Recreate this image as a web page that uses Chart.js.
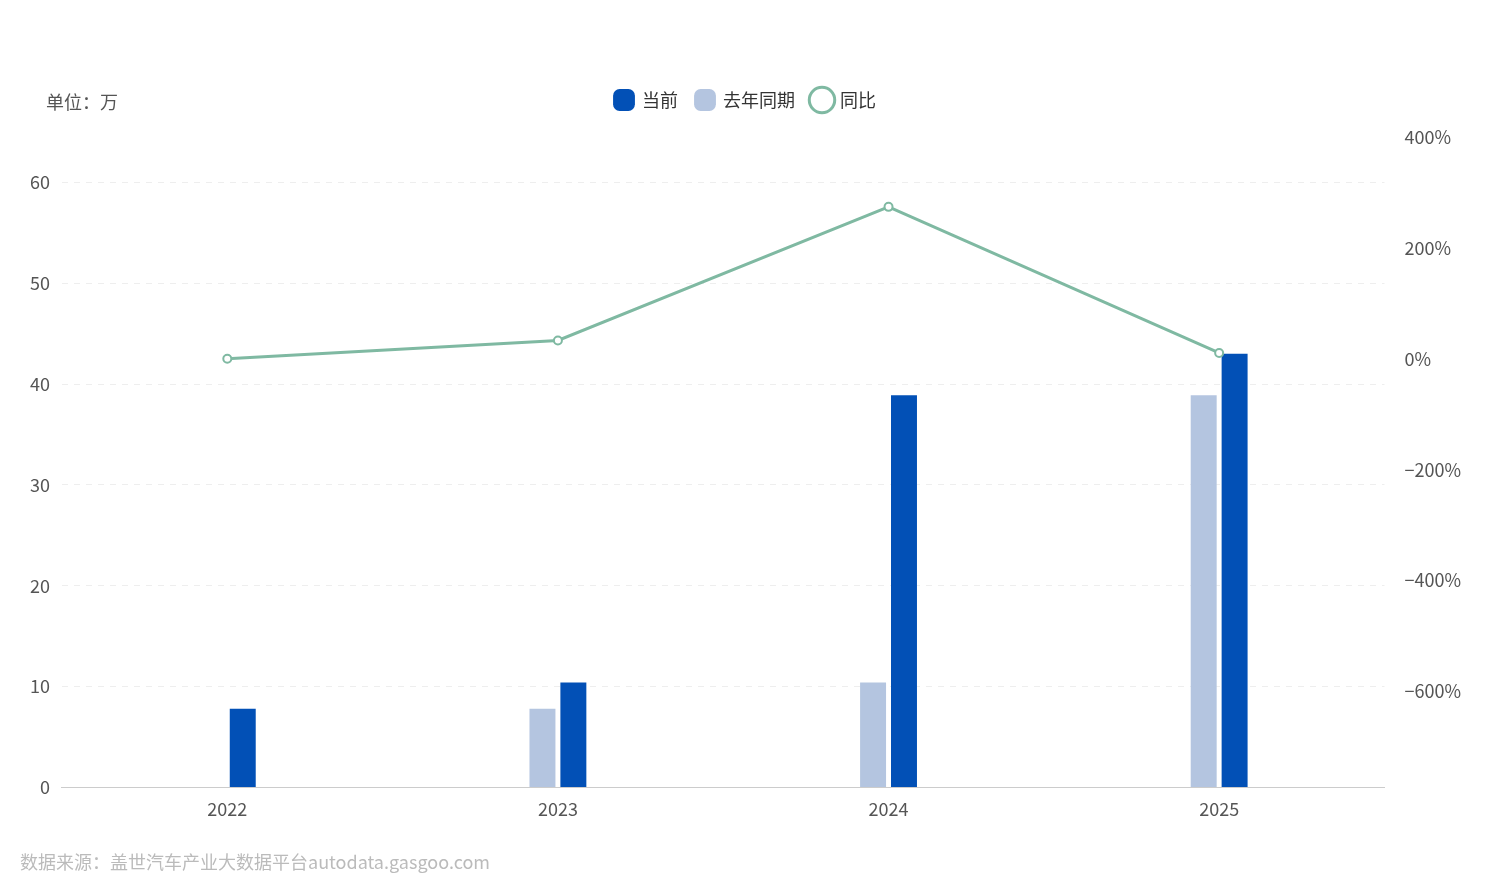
<!DOCTYPE html>
<html><head><meta charset="utf-8">
<script src="https://cdn.jsdelivr.net/npm/chart.js"></script>
<style>html,body{margin:0;padding:0;background:#fff}#w{width:1487px;height:895px}</style>
</head><body><div id="w"><canvas id="c"></canvas></div>
<script>
const categories=['2022','2023','2024','2025'];
const currentVals=[7.8,10.4,38.9,43.0];
const lastYearVals=[null,7.8,10.4,38.9];
const yoyVals=[0,33,274,10.5];
const leftTicks=[0,10,20,30,40,50,60];
const rightTicks=[-600,-400,-200,0,200,400];
const F='"PingFang SC","Noto Sans CJK SC","Noto Sans",sans-serif';
const legendOrder={'当前':0,'去年同期':1,'同比':2};
const textPlugin={id:'t',beforeInit(c){const f=c.legend.fit;c.legend.fit=function(){f.call(this);this.height+=18;};},afterDraw(c){const x=c.ctx;x.save();x.font='18px '+F;x.fillStyle='#555';x.textBaseline='middle';x.fillText('单位：万',46,102);x.fillStyle='#bbb';x.fillText('数据来源：盖世汽车产业大数据平台autodata.gasgoo.com',20,862);x.restore();}};
new Chart(document.getElementById('c'),{
data:{labels:categories,datasets:[
{type:'bar',label:'去年同期',data:lastYearVals,backgroundColor:'#b4c5e0',barPercentage:0.84,categoryPercentage:0.187,yAxisID:'y',order:1},
{type:'bar',label:'当前',data:currentVals,backgroundColor:'#0250b6',barPercentage:0.84,categoryPercentage:0.187,yAxisID:'y',order:2},
{type:'line',label:'同比',data:yoyVals,yAxisID:'y1',borderColor:'#7fb9a2',backgroundColor:'#fff',borderWidth:3,pointRadius:4,pointBorderWidth:2,pointBorderColor:'#7fb9a2',pointStyle:'circle',order:0}
]},
options:{responsive:true,maintainAspectRatio:false,animation:false,
layout:{padding:{top:73,bottom:72,left:18,right:14}},
plugins:{legend:{position:'top',labels:{usePointStyle:true,font:{family:F,size:18},color:'#333',padding:18,
 sort:(a,b)=>legendOrder[a.text]-legendOrder[b.text],
 generateLabels(c){return c.data.datasets.map((d,i)=>({text:d.label,datasetIndex:i,fillStyle:d.type==='line'?'#fff':d.backgroundColor,strokeStyle:d.type==='line'?'#7fb9a2':d.backgroundColor,lineWidth:d.type==='line'?3:0,pointStyle:d.type==='line'?'circle':'rectRounded',fontColor:'#333'}));}}},tooltip:{enabled:false}},
scales:{
x:{grid:{display:false},border:{color:'#ccc'},ticks:{color:'#555',font:{family:F,size:18},padding:3}},
y:{position:'left',min:0,max:64.5,afterBuildTicks(a){a.ticks=leftTicks.map(v=>({value:v}));},grid:{color:'#eee',drawTicks:false},border:{display:false,dash:[6,6]},ticks:{color:'#555',font:{family:F,size:18},padding:12}},
y1:{position:'right',min:-773,max:400,afterBuildTicks(a){a.ticks=rightTicks.map(v=>({value:v}));},grid:{display:false},border:{display:false},ticks:{color:'#555',font:{family:F,size:18},padding:12,callback:v=>(v<0?'\u2212'+(-v):v)+'%'}}
}},plugins:[textPlugin]});
</script></body></html>
